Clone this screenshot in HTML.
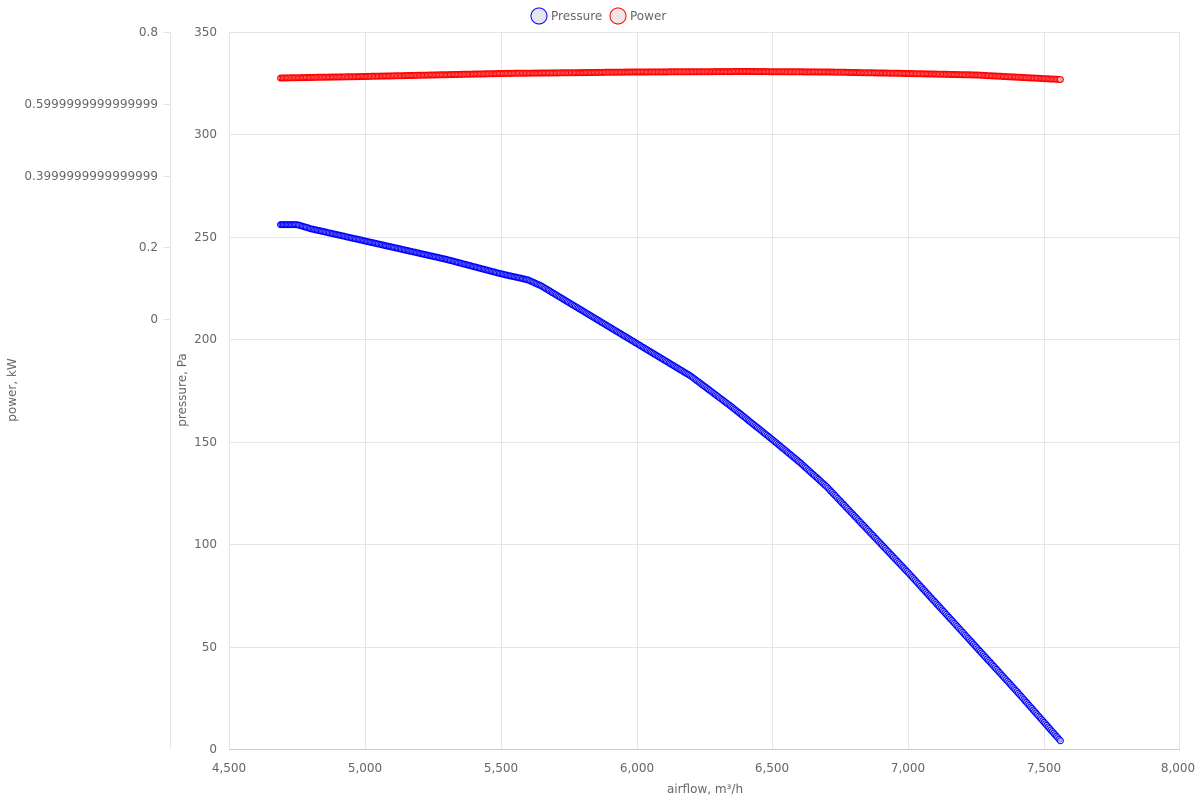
<!DOCTYPE html>
<html><head><meta charset="utf-8"><style>
body{margin:0;background:#fff;width:1200px;height:800px;overflow:hidden}
svg{font-family:"DejaVu Sans","Liberation Sans",sans-serif;font-size:12px;fill:#666}
</style></head><body>
<svg id="s" width="1200" height="800" xmlns="http://www.w3.org/2000/svg">
<g stroke="#e5e5e5" stroke-width="1">
<line x1="229.5" y1="32" x2="229.5" y2="749"/><line x1="365.5" y1="32" x2="365.5" y2="749"/><line x1="501.5" y1="32" x2="501.5" y2="749"/><line x1="637.5" y1="32" x2="637.5" y2="749"/><line x1="772.5" y1="32" x2="772.5" y2="749"/><line x1="908.5" y1="32" x2="908.5" y2="749"/><line x1="1044.5" y1="32" x2="1044.5" y2="749"/><line x1="1179.5" y1="32" x2="1179.5" y2="749"/>
<line x1="229" y1="32.5" x2="1180" y2="32.5"/><line x1="229" y1="134.5" x2="1180" y2="134.5"/><line x1="229" y1="237.5" x2="1180" y2="237.5"/><line x1="229" y1="339.5" x2="1180" y2="339.5"/><line x1="229" y1="442.5" x2="1180" y2="442.5"/><line x1="229" y1="544.5" x2="1180" y2="544.5"/><line x1="229" y1="647.5" x2="1180" y2="647.5"/>
<line x1="170.5" y1="32" x2="170.5" y2="749"/>
<line x1="163" y1="32.5" x2="170" y2="32.5"/><line x1="163" y1="104.5" x2="170" y2="104.5"/><line x1="163" y1="176.5" x2="170" y2="176.5"/><line x1="163" y1="247.5" x2="170" y2="247.5"/><line x1="163" y1="319.5" x2="170" y2="319.5"/>
</g>
<line x1="229" y1="749.5" x2="1180" y2="749.5" stroke="#ccc"/>
<g text-anchor="end">
<text x="217" y="36">350</text><text x="217" y="138">300</text><text x="217" y="241">250</text><text x="217" y="343">200</text><text x="217" y="446">150</text><text x="217" y="548">100</text><text x="217" y="651">50</text><text x="217" y="753">0</text>
<text x="158" y="36">0.8</text><text x="158" y="108">0.5999999999999999</text><text x="158" y="180">0.3999999999999999</text><text x="158" y="251">0.2</text><text x="158" y="323">0</text>
</g>
<g text-anchor="middle">
<text x="229" y="772">4,500</text><text x="365" y="772">5,000</text><text x="501" y="772">5,500</text><text x="637" y="772">6,000</text><text x="772" y="772">6,500</text><text x="908" y="772">7,000</text><text x="1044" y="772">7,500</text><text x="1178" y="772">8,000</text>
<text x="705" y="793">airflow, m³/h</text>
<text transform="translate(186,390) rotate(-90)">pressure, Pa</text>
<text transform="translate(16,390) rotate(-90)">power, kW</text>
</g>
<circle cx="539" cy="16" r="8" fill="#e6e6f0" stroke="blue"/><text x="551" y="20">Pressure</text>
<circle cx="618" cy="16" r="8" fill="#f0e6e6" stroke="red"/><text x="630" y="20">Power</text>
<g id="d"></g>
</svg>
<script>
function X(a){return 229+(a-4500)*951/3500}
function P(p){return 749-p*717/350}
var pres=[[4690,256],[4750,256],[4800,254],[5000,248],[5300,239],[5500,232],[5600,229],[5650,226],[5800,214],[6000,198],[6200,182],[6350,167],[6500,151],[6600,140],[6700,128],[6850,107],[7000,86],[7200,57],[7400,28],[7560,4]];
var pow=[[4690,78],[5000,76.5],[5500,73.5],[6000,72],[6400,71.5],[6700,72],[7000,73.5],[7250,75],[7560,79.5]];
function interp(arr,x,f){for(var i=0;i<arr.length-1;i++){if(x<=arr[i+1][0]){var t=(x-arr[i][0])/(arr[i+1][0]-arr[i][0]);return f(arr[i][1]+t*(arr[i+1][1]-arr[i][1]));}}return f(arr[arr.length-1][1]);}
var h='',lp='',lq='';
for(var a=4690;a<=7560;a+=5){
 var x=X(a).toFixed(1),yp=interp(pow,a,function(v){return v}).toFixed(1),yq=interp(pres,a,P).toFixed(1);
 lp+=x+','+yp+' ';lq+=x+','+yq+' ';
 h+='<circle cx="'+x+'" cy="'+yp+'" r="3" fill="rgba(240,220,220,0.5)" stroke="red" stroke-width="1"/>';
 h+='<circle cx="'+x+'" cy="'+yq+'" r="3" fill="rgba(220,220,240,0.5)" stroke="blue" stroke-width="1"/>';
}
h='<polyline points="'+lp+'" fill="none" stroke="#600" stroke-width="2"/><polyline points="'+lq+'" fill="none" stroke="#006" stroke-width="2"/>'+h;
document.getElementById('d').innerHTML=h;
</script>
</body></html>
